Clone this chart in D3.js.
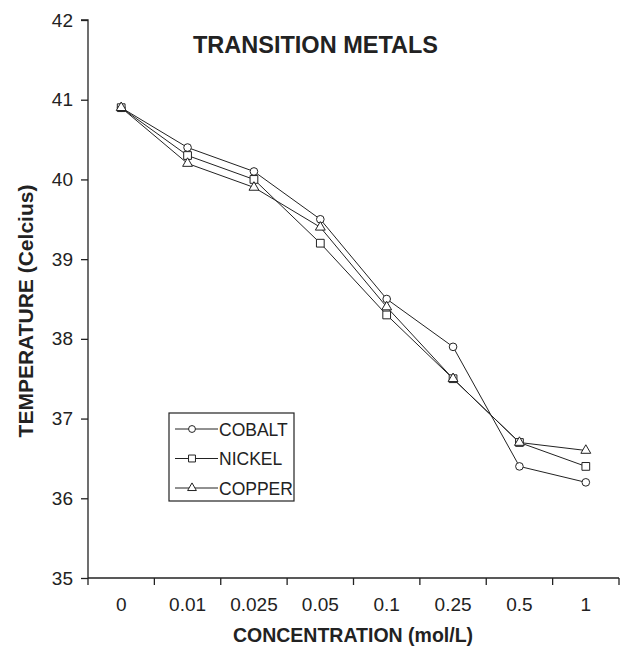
<!DOCTYPE html>
<html lang="en">
<head>
    <meta charset="UTF-8">
    <title>Transition metals</title>
    <style>
        body { margin: 0; background: #fff; }
        svg { font-family: "Liberation Sans", Arial, sans-serif; }
        .axis path, .axis line { stroke: #222; stroke-width: 1.3; }
        .axis text { font-size: 19px; fill: #222; }
        .series { fill: none; stroke: #222; stroke-width: 1; }
        .mark { fill: #fff; stroke: #222; stroke-width: 1; }
    </style>
</head>
<body>
<svg id="chart"></svg>
<script src="https://cdnjs.cloudflare.com/ajax/libs/d3/7.8.5/d3.min.js"></script>
<script>
    var width = 620;
    var height = 646;
    var categories = ["0", "0.01", "0.025", "0.05", "0.1", "0.25", "0.5", "1"];
    var cobalt = [40.9, 40.4, 40.1, 39.5, 38.5, 37.9, 36.4, 36.2];
    var nickel = [40.9, 40.3, 40.0, 39.2, 38.3, 37.5, 36.7, 36.4];
    var copper = [40.9, 40.2, 39.9, 39.4, 38.4, 37.5, 36.7, 36.6];
    var yTicks = [35, 36, 37, 38, 39, 40, 41, 42];
    var series = [
        {name: "COBALT", values: cobalt, symbol: d3.symbolCircle, size: 46},
        {name: "NICKEL", values: nickel, symbol: d3.symbolSquare, size: 60},
        {name: "COPPER", values: copper, symbol: d3.symbolTriangle, size: 42}
    ];

    //plot box (avoid the global name "top", it belongs to window)
    var plotL = 88, plotR = 619, plotT = 20, plotB = 578;

    var svg = d3.select("#chart")
        .attr("width", width)
        .attr("height", height);

    var x = d3.scaleBand().domain(categories).range([plotL, plotR]);
    var y = d3.scaleLinear().domain([35, 42]).range([plotB, plotT]);
    var cx = function(i) { return x(categories[i]) + x.bandwidth() / 2; };

    //x axis: ticks sit between the categories
    var xg = svg.append("g")
        .attr("class", "axis")
        .attr("transform", "translate(0," + plotB + ")");
    xg.append("line").attr("x1", plotL).attr("x2", plotR);
    xg.selectAll(".tk")
        .data(d3.range(categories.length + 1))
        .enter().append("line")
        .attr("x1", function(i) { return plotL + i * x.bandwidth(); })
        .attr("x2", function(i) { return plotL + i * x.bandwidth(); })
        .attr("y2", 7);
    xg.selectAll("text")
        .data(categories)
        .enter().append("text")
        .attr("x", function(d, i) { return cx(i); })
        .attr("y", 33)
        .attr("text-anchor", "middle")
        .text(function(d) { return d; });

    //y axis
    var yAxis = d3.axisLeft(y)
        .tickValues(yTicks)
        .tickFormat(d3.format("d"))
        .tickSize(7)
        .tickPadding(8);
    svg.append("g")
        .attr("class", "axis")
        .attr("transform", "translate(" + plotL + ",0)")
        .call(yAxis)
        .call(function(g) {
            g.select(".domain").attr("d", "M-7," + plotT + "H0V" + plotB);
        });

    //lines and markers
    var line = d3.line()
        .x(function(d, i) { return cx(i); })
        .y(function(d) { return y(d); });

    series.forEach(function(s) {
        svg.append("path").attr("class", "series").attr("d", line(s.values));
    });
    series.forEach(function(s) {
        svg.selectAll(null)
            .data(s.values)
            .enter().append("path")
            .attr("class", "mark")
            .attr("d", d3.symbol().type(s.symbol).size(s.size))
            .attr("transform", function(d, i) {
                return "translate(" + cx(i) + "," + y(d) + ")";
            });
    });

    //titles
    svg.append("text")
        .attr("x", 193).attr("y", 53)
        .style("font-size", "23.5px").style("font-weight", "bold").style("fill", "#222")
        .text("TRANSITION METALS");
    svg.append("text")
        .attr("x", 353).attr("y", 642)
        .attr("text-anchor", "middle")
        .style("font-size", "19.5px").style("font-weight", "bold").style("fill", "#222")
        .text("CONCENTRATION (mol/L)");
    svg.append("text")
        .attr("transform", "translate(33,311) rotate(-90)")
        .attr("text-anchor", "middle")
        .style("font-size", "21px").style("font-weight", "bold").style("fill", "#222")
        .text("TEMPERATURE (Celcius)");

    //legend
    var lg = svg.append("g").attr("transform", "translate(169,413)");
    lg.append("rect")
        .attr("width", 125).attr("height", 88)
        .attr("fill", "#fff").attr("stroke", "#222").attr("stroke-width", 1.2);
    var item = lg.selectAll(".item")
        .data(series)
        .enter().append("g")
        .attr("transform", function(d, i) { return "translate(0," + (16 + i * 29.5) + ")"; });
    item.append("line")
        .attr("x1", 6).attr("x2", 49)
        .attr("stroke", "#222").attr("stroke-width", 1);
    item.append("path")
        .attr("class", "mark")
        .attr("transform", "translate(23,0)")
        .attr("d", function(d) { return d3.symbol().type(d.symbol).size(d.size * 0.8)(); });
    item.append("text")
        .attr("x", 50).attr("y", 6.5)
        .style("font-size", "17.5px").style("fill", "#222")
        .text(function(d) { return d.name; });
</script>
</body>
</html>
